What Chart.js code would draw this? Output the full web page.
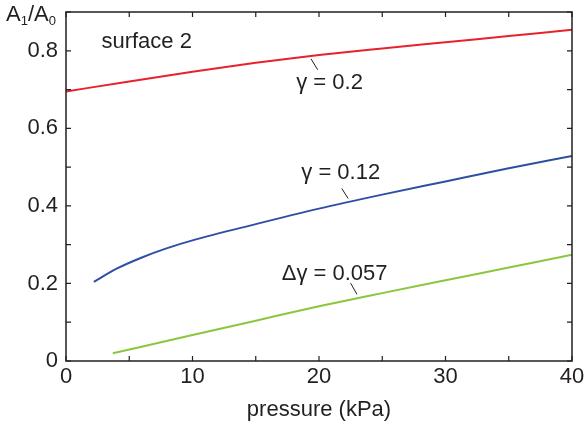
<!DOCTYPE html>
<html>
<head>
<meta charset="utf-8">
<script src="https://cdn.jsdelivr.net/npm/chart.js@4"></script>
<style>
  html, body { margin: 0; padding: 0; background: #fff; }
  canvas { display: block; }
</style>
</head>
<body>
<canvas id="chart" width="584" height="428"></canvas>
<script>
// data (pressure in kPa, A1/A0)
const redPressure = [0, 5, 10, 15, 20, 25, 30, 35, 40]
const redRatio = [0.695, 0.721, 0.746, 0.769, 0.789, 0.806, 0.822, 0.838, 0.854]

const bluePressure = [2.2, 4, 6, 8, 10, 15, 20, 25, 30, 35, 40]
const blueRatio = [0.204, 0.238, 0.267, 0.291, 0.311, 0.353, 0.393, 0.429, 0.463, 0.497, 0.529]

const greenPressure = [3.7, 10, 15, 20, 25, 30, 35, 40]
const greenRatio = [0.020, 0.067, 0.104, 0.141, 0.175, 0.208, 0.241, 0.274]

const xTickStep = 5
const yTickStep = 0.1

const curveLabels = ['γ = 0.2', 'γ = 0.12', 'Δγ = 0.057']
const panelLabel = 'surface 2'
const xTitle = 'pressure (kPa)'

// where the text notes and their leader lines sit, in data units
const notes = [
  { text: panelLabel, x: 2.8, y: 0.808 },
  { text: curveLabels[0], x: 18.2, y: 0.701, from: [19.37, 0.779], to: [19.9, 0.751] },
  { text: curveLabels[1], x: 18.6, y: 0.470, from: [21.8, 0.445], to: [22.3, 0.419] },
  { text: curveLabels[2], x: 17.05, y: 0.210, from: [22.5, 0.2006], to: [23.0, 0.172] }
]

const FONT = '"Liberation Sans", Arial, Helvetica, sans-serif'
const SIZE = 22
const INK = '#231f20'

const toPoints = (xs, ys) => xs.map((x, i) => ({ x: x, y: ys[i] }))

const frameAndNotes = {
  id: 'frameAndNotes',
  afterDraw(chart) {
    const ctx = chart.ctx
    const area = chart.chartArea
    const xs = chart.scales.x
    const ys = chart.scales.y
    const tick = 5

    ctx.save()
    ctx.strokeStyle = INK
    ctx.lineWidth = 1.5
    ctx.strokeRect(area.left, area.top, area.right - area.left, area.bottom - area.top)

    // inward tick marks on all four sides
    ctx.lineWidth = 1.2
    ctx.beginPath()
    xs.ticks.forEach((t) => {
      const px = xs.getPixelForValue(t.value)
      ctx.moveTo(px, area.bottom)
      ctx.lineTo(px, area.bottom - tick)
      ctx.moveTo(px, area.top)
      ctx.lineTo(px, area.top + tick)
    })
    ys.ticks.forEach((t) => {
      const py = ys.getPixelForValue(t.value)
      ctx.moveTo(area.left, py)
      ctx.lineTo(area.left + tick, py)
      ctx.moveTo(area.right, py)
      ctx.lineTo(area.right - tick, py)
    })
    ctx.stroke()

    // notes
    ctx.fillStyle = INK
    ctx.font = SIZE + 'px ' + FONT
    ctx.textBaseline = 'alphabetic'
    ctx.textAlign = 'left'
    ctx.lineWidth = 1
    notes.forEach((n) => {
      ctx.fillText(n.text, xs.getPixelForValue(n.x), ys.getPixelForValue(n.y))
      if (n.from) {
        ctx.beginPath()
        ctx.moveTo(xs.getPixelForValue(n.from[0]), ys.getPixelForValue(n.from[1]))
        ctx.lineTo(xs.getPixelForValue(n.to[0]), ys.getPixelForValue(n.to[1]))
        ctx.stroke()
      }
    })

    // y title A1/A0 with subscripts
    let x = 6
    const base = 21
    const parts = [['A', 0, SIZE], ['1', 4, 13], ['/', 0, SIZE], ['A', 0, SIZE], ['0', 4, 13]]
    parts.forEach((p) => {
      ctx.font = p[2] + 'px ' + FONT
      ctx.fillText(p[0], x, base + p[1])
      x += ctx.measureText(p[0]).width
    })

    // x title
    ctx.font = SIZE + 'px ' + FONT
    ctx.textAlign = 'center'
    ctx.fillText(xTitle, (area.left + area.right) / 2, 416)
    ctx.restore()
  }
}

const canvas = document.getElementById('chart')

new Chart(canvas, {
  type: 'line',
  data: {
    datasets: [
      { data: toPoints(redPressure, redRatio), borderColor: '#e8222b', borderWidth: 2 },
      { data: toPoints(bluePressure, blueRatio), borderColor: '#2f4fa3', borderWidth: 2 },
      { data: toPoints(greenPressure, greenRatio), borderColor: '#8cc63f', borderWidth: 2 }
    ]
  },
  options: {
    responsive: false,
    animation: false,
    devicePixelRatio: 1,
    layout: { padding: { top: 12, right: 12, left: 0, bottom: 0 } },
    elements: {
      point: { radius: 0 },
      line: { tension: 0.4, cubicInterpolationMode: 'monotone', fill: false }
    },
    plugins: {
      legend: { display: false },
      tooltip: { enabled: false }
    },
    scales: {
      x: {
        type: 'linear',
        min: 0,
        max: 40,
        grid: { display: false, drawTicks: false },
        border: { display: false },
        afterFit: (scale) => {
          scale.height = 67
          scale.paddingLeft = 0
          scale.paddingRight = 0
        },
        ticks: {
          stepSize: xTickStep,
          padding: 3,
          maxRotation: 0,
          autoSkip: false,
          color: INK,
          font: { family: FONT, size: SIZE },
          callback: (value) => (Math.round(value) % 10 === 0 ? String(value) : '')
        }
      },
      y: {
        min: 0,
        max: 0.9,
        grid: { display: false, drawTicks: false },
        border: { display: false },
        afterFit: (scale) => {
          scale.width = 66
          scale.paddingTop = 0
          scale.paddingBottom = 0
        },
        ticks: {
          stepSize: yTickStep,
          padding: 8,
          autoSkip: false,
          color: INK,
          font: { family: FONT, size: SIZE },
          callback: (value) => {
            const k = Math.round(value * 10)
            if (k % 2 !== 0) return ''
            return k === 0 ? '0' : (k / 10).toFixed(1)
          }
        }
      }
    }
  },
  plugins: [frameAndNotes]
})
</script>
</body>
</html>
